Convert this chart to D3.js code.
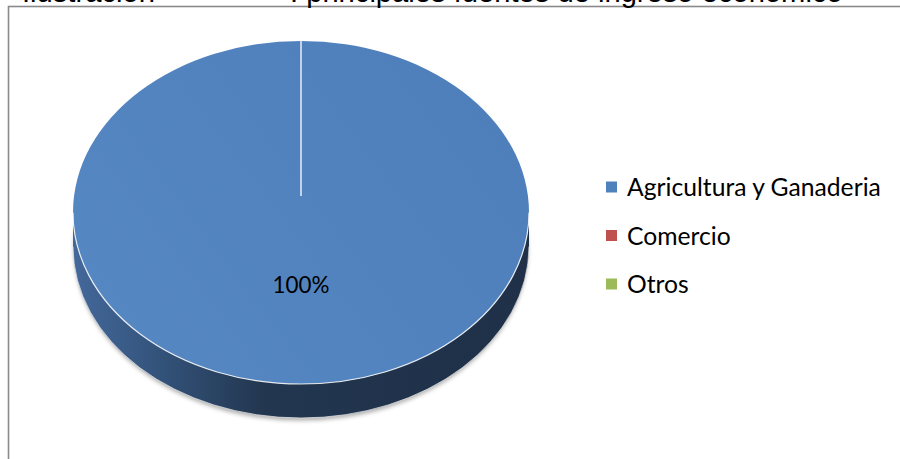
<!DOCTYPE html>
<html>
<head>
<meta charset="utf-8">
<script src="https://cdn.jsdelivr.net/npm/d3@7"></script>
<style>
  html, body { margin: 0; padding: 0; background: #ffffff; overflow: hidden; }
  svg { display: block; }
</style>
</head>
<body>
<svg id="chart" width="900" height="459"></svg>
<script>
// ---- data ----
const categories = ["Agricultura y Ganaderia", "Comercio", "Otros"];
const values = [100, 0, 0];
const colors = ["#4F81BD", "#C0504D", "#9BBB59"];
const titleLead = "Ilustración";
const titleText = ": principales fuentes de ingreso económico";

const svg = d3.select("#chart");
const labelFont = "Lato, 'Open Sans', 'Noto Sans', sans-serif";

// frame
svg.append("rect")
  .attr("x", 8.5).attr("y", 6.5)
  .attr("width", 1000).attr("height", 1000)
  .attr("fill", "none").attr("stroke", "#8a8a8a").attr("stroke-width", 1.6);

// title (clipped at the top of the page, as in the reference)
function fitFont(sel, target, base) {
  sel.style("font-size", base + "px");
  const w = sel.node().getComputedTextLength();
  const s = base * target / w;
  sel.style("font-size", s + "px");
  return s;
}
const tMain = svg.append("text")
  .attr("x", 290).attr("y", 2)
  .style("font-family", "'Liberation Sans', Arial, sans-serif")
  .attr("fill", "#000").text(titleText);
const tSize = fitFont(tMain, 553, 28);
svg.append("text")
  .attr("x", 22).attr("y", 2)
  .style("font-family", "'Liberation Sans', Arial, sans-serif")
  .style("font-size", tSize + "px")
  .attr("fill", "#000").text(titleLead);

// ---- pie geometry (projected 3D) ----
const cx = 301, cy = 212.5;      // centre of projected top ellipse
const rx = 228, ry = 171.5;
const pcy = 196;                  // projected pie centre (perspective)
const depth = 34;

const defs = svg.append("defs");
const sideGrad = defs.append("linearGradient").attr("id", "sideGrad")
  .attr("gradientUnits", "userSpaceOnUse")
  .attr("x1", cx - rx).attr("x2", cx + rx).attr("y1", 0).attr("y2", 0);
sideGrad.append("stop").attr("offset", "0").attr("stop-color", "#43689A");
sideGrad.append("stop").attr("offset", "0.18").attr("stop-color", "#34547C");
sideGrad.append("stop").attr("offset", "0.42").attr("stop-color", "#22364F");
sideGrad.append("stop").attr("offset", "1").attr("stop-color", "#1F3048");

const topGrad = defs.append("linearGradient").attr("id", "topGrad")
  .attr("gradientUnits", "userSpaceOnUse")
  .attr("x1", cx - rx).attr("x2", cx + rx).attr("y1", cy + ry).attr("y2", cy - ry);
topGrad.append("stop").attr("offset", "0").attr("stop-color", "#5688C4");
topGrad.append("stop").attr("offset", "1").attr("stop-color", "#4D7EBA");

const blur = defs.append("filter").attr("id", "shadowBlur")
  .attr("x", "-10%").attr("y", "-10%").attr("width", "120%").attr("height", "130%");
blur.append("feGaussianBlur").attr("stdDeviation", 2.2);

const pie = d3.pie().sort(null).value(d => d)(values);

// shadow under the pie
svg.append("ellipse")
  .attr("cx", cx).attr("cy", cy + depth + 2.5)
  .attr("rx", rx - 1).attr("ry", ry)
  .attr("fill", "rgba(0,0,0,0.32)")
  .attr("filter", "url(#shadowBlur)");

// side wall (front half)
const sidePath = `M${cx + rx},${cy} A${rx},${ry} 0 0 1 ${cx - rx},${cy}
  L${cx - rx},${cy + depth} A${rx},${ry} 0 0 0 ${cx + rx},${cy + depth} Z`;
svg.append("path").attr("d", sidePath).attr("fill", "url(#sideGrad)");
svg.append("path")
  .attr("d", `M${cx - rx},${cy + depth} A${rx},${ry} 0 0 0 ${cx + rx},${cy + depth}`)
  .attr("fill", "none").attr("stroke", "rgba(235,235,235,0.9)").attr("stroke-width", 0.8);

// top faces
function pt(theta) {
  return [cx + rx * Math.sin(theta), cy - ry * Math.cos(theta)];
}
pie.forEach((p, i) => {
  if (p.endAngle - p.startAngle <= 0) return;
  let d;
  if (p.endAngle - p.startAngle >= 2 * Math.PI - 1e-6) {
    d = `M${cx},${cy - ry} A${rx},${ry} 0 1 1 ${cx},${cy + ry} A${rx},${ry} 0 1 1 ${cx},${cy - ry} Z`;
  } else {
    const a = pt(p.startAngle), b = pt(p.endAngle);
    const large = (p.endAngle - p.startAngle) > Math.PI ? 1 : 0;
    d = `M${cx},${pcy} L${a[0]},${a[1]} A${rx},${ry} 0 ${large} 1 ${b[0]},${b[1]} Z`;
  }
  svg.append("path").attr("d", d)
    .attr("fill", i === 0 ? "url(#topGrad)" : colors[i]);
});
// white bevel along the front rim of the top face
svg.append("path")
  .attr("d", `M${cx + rx},${cy} A${rx},${ry} 0 0 1 ${cx - rx},${cy}`)
  .attr("fill", "none").attr("stroke", "rgba(255,255,255,0.85)").attr("stroke-width", 1.2);

// slice borders (white radial lines)
pie.forEach(p => {
  if (p.endAngle - p.startAngle <= 0) return;
  const a = pt(p.startAngle);
  svg.append("line")
    .attr("x1", cx).attr("y1", pcy)
    .attr("x2", a[0]).attr("y2", a[1])
    .attr("stroke", "#ffffff").attr("stroke-width", 1.3);
});

// data labels
const total = d3.sum(values);
pie.forEach(p => {
  if (p.value <= 0) return;
  const mid = (p.startAngle + p.endAngle) / 2;
  const lx = cx + (rx * 0.5) * Math.sin(mid);
  const ly = pcy - ((cy + ry) - pcy) * 0.5 * Math.cos(mid);
  const t = svg.append("text")
    .attr("x", lx).attr("y", ly + 2.5)
    .attr("text-anchor", "middle")
    .style("font-family", labelFont)
    .attr("fill", "#000")
    .text(d3.format(".0%")(p.value / total));
  fitFont(t, 57, 26);
});

// legend
const legend = svg.append("g");
const rowY = d3.scalePoint().domain(categories).range([187, 284]);
let legendSize = null;
categories.forEach((c, i) => {
  const y = rowY(c);
  legend.append("rect")
    .attr("x", 606).attr("y", y - 5.5)
    .attr("width", 11).attr("height", 11)
    .attr("fill", colors[i]);
  const t = legend.append("text")
    .attr("x", 627).attr("y", y + 9)
    .style("font-family", labelFont)
    .attr("fill", "#000")
    .text(c);
  if (i === 0) legendSize = fitFont(t, 254, 26);
  else t.style("font-size", legendSize + "px");
});
</script>
</body>
</html>
